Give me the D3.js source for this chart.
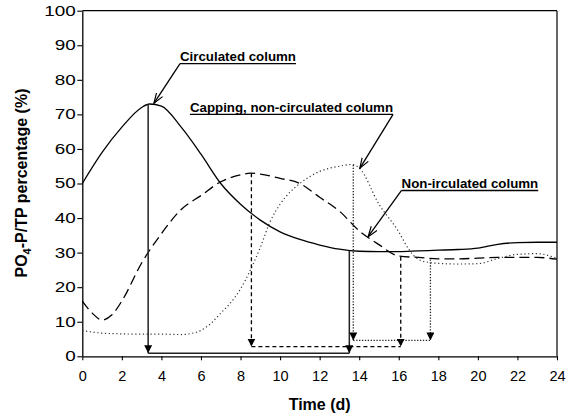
<!DOCTYPE html>
<html>
<head>
<meta charset="utf-8">
<script src="https://cdn.jsdelivr.net/npm/d3@7"></script>
<style>
  html, body { margin: 0; padding: 0; background: #fff; }
  svg { display: block; font-family: "Liberation Sans", Arial, sans-serif; }
</style>
</head>
<body>
<svg id="chart" width="573" height="419"></svg>
<script>
// ---------- data ----------
const xTicks = [0, 2, 4, 6, 8, 10, 12, 14, 16, 18, 20, 22, 24];
const yTicks = [0, 10, 20, 30, 40, 50, 60, 70, 80, 90, 100];

// Circulated column (solid)
const circDays   = [0, 1, 2, 3, 3.4, 4, 5, 6, 7, 8, 9, 10, 11, 12, 13, 14, 15, 16, 17, 18, 19, 20, 21, 22, 23, 24];
const circValues = [50, 59, 66.3, 72, 73, 72.4, 66.3, 58.5, 50, 44, 39.4, 36, 33.8, 32.2, 31, 30.4, 30.3, 30.3, 30.5, 30.7, 30.9, 31.3, 32.4, 32.9, 33, 33];

// Capping, non-circulated column (dashed)
const capDays   = [0, 0.5, 1, 1.5, 2, 3, 4, 5, 6, 7, 8, 8.5, 9, 10, 11, 12, 13, 14, 15, 16, 17, 18, 19, 20, 21, 22, 23, 24];
const capValues = [16, 12.5, 10.5, 12, 16, 27, 35.5, 42.5, 46.5, 50.5, 52.5, 53, 52.7, 51.5, 50, 46, 42, 36.3, 32.3, 29, 28.6, 28.2, 28.2, 28.4, 28.6, 28.6, 28.6, 28.1];

// Non-circulated column (dotted)
const nonDays   = [0, 0.5, 1, 2, 3, 4, 5, 5.5, 6, 6.5, 7, 7.5, 8, 8.5, 9, 9.5, 10, 10.5, 11, 12, 13, 13.6, 14, 15, 16, 16.5, 17, 17.5, 18, 19, 20, 21, 22, 23, 24];
const nonValues = [7.5, 7, 6.7, 6.5, 6.4, 6.4, 6.3, 6.6, 7.5, 9.5, 12.5, 15.5, 19.5, 25, 31.5, 39, 44, 47.5, 50, 53.5, 55, 55.5, 54.5, 44, 36, 31, 28, 27.2, 26.9, 26.7, 26.8, 28.3, 29.5, 29.7, 28.3];

// guide arrows: peak -> stable, per series
const guideStartDays   = [3.33, 8.55, 13.7];
const guideStartValues = [73, 53, 55.4];
const guideEndDays     = [13.5, 16.1, 17.6];
const guideEndValues   = [30.5, 28.8, 28];
const guideLevels      = [0.9, 2.8, 4.6];

// annotations
const annLabels    = ["Circulated column", "Capping, non-circulated column", "Non-irculated column"];
const annTextDays  = [4.94, 5.44, 16.14];
const annTextVals  = [85.4, 70.7, 48.7];
const annTipDays   = [3.62, 14.03, 14.45];
const annTipVals   = [73.2, 54.4, 34.6];
const annAnchor    = ["start", "end", "start"]; // which end of the underline the leader leaves from

// ---------- layout ----------
const svg = d3.select("#chart");
const x = d3.scaleLinear().domain([0, 24]).range([82.3, 557]);
const y = d3.scaleLinear().domain([0, 100]).range([356.3, 10.7]);

const defs = svg.append("defs");
defs.append("marker")
  .attr("id", "tri").attr("markerUnits", "userSpaceOnUse")
  .attr("viewBox", "0 0 10 10").attr("refX", 10).attr("refY", 5)
  .attr("markerWidth", 8).attr("markerHeight", 8).attr("orient", "auto")
  .append("path").attr("d", "M0,0 L10,5 L0,10 Z").attr("fill", "#000");
defs.append("marker")
  .attr("id", "open").attr("markerUnits", "userSpaceOnUse")
  .attr("viewBox", "0 0 12 10").attr("refX", 11.5).attr("refY", 5)
  .attr("markerWidth", 11).attr("markerHeight", 9).attr("orient", "auto")
  .append("path").attr("d", "M0,1 L11.5,5 L0,9").attr("fill", "none").attr("stroke", "#000").attr("stroke-width", 1.3);

// axes
const gx = svg.append("g").attr("transform", `translate(0,${y(0)})`)
  .call(d3.axisBottom(x).tickValues(xTicks).tickSize(4).tickPadding(10).tickSizeOuter(0));
const gy = svg.append("g").attr("transform", `translate(${x(0)},0)`)
  .call(d3.axisLeft(y).tickValues(yTicks).tickSize(5).tickPadding(1.5).tickSizeOuter(0));
[gx, gy].forEach(g => {
  g.selectAll("path.domain").attr("stroke", "#000").attr("stroke-width", 1.3);
  g.selectAll(".tick line").attr("stroke", "#000").attr("stroke-width", 1.1);
  g.selectAll("text").attr("fill", "#000").style("font-size", "14px")
    .style("font-family", '"Liberation Sans", Arial, sans-serif');
});
gx.selectAll("text").style("font-size", "14.5px");
// y tick labels in the reference are drawn wider
gy.selectAll(".tick text").each(function () {
  const w = this.getComputedTextLength();
  d3.select(this).attr("textLength", w * 1.35).attr("lengthAdjust", "spacingAndGlyphs");
});
// frame top and right
svg.append("line").attr("x1", x(0)).attr("x2", x(24)).attr("y1", y(100)).attr("y2", y(100)).attr("stroke", "#000").attr("stroke-width", 1.2);
svg.append("line").attr("x1", x(24)).attr("x2", x(24)).attr("y1", y(100)).attr("y2", y(0)).attr("stroke", "#000").attr("stroke-width", 1.2);

// axis titles
svg.append("text").attr("x", x(12)).attr("y", 410).attr("text-anchor", "middle")
  .style("font-size", "16px").style("font-weight", "bold").text("Time (d)");
const yt = svg.append("text").attr("transform", "translate(27,183) rotate(-90)")
  .attr("text-anchor", "middle").style("font-size", "16px").style("font-weight", "bold");
yt.append("tspan").text("PO");
yt.append("tspan").attr("dy", 4).style("font-size", "11px").text("4");
yt.append("tspan").attr("dy", -4).text("-P/TP percentage (%)");

// curves
const line = d3.line().x(d => x(d[0])).y(d => y(d[1])).curve(d3.curveMonotoneX);
svg.append("path").datum(d3.zip(circDays, circValues)).attr("d", line)
  .attr("fill", "none").attr("stroke", "#000").attr("stroke-width", 1.3);
svg.append("path").datum(d3.zip(capDays, capValues)).attr("d", line)
  .attr("fill", "none").attr("stroke", "#000").attr("stroke-width", 1.3).attr("stroke-dasharray", "10,5");
svg.append("path").datum(d3.zip(nonDays, nonValues)).attr("d", line)
  .attr("fill", "none").attr("stroke", "#333").attr("stroke-width", 1.2).attr("stroke-dasharray", "1.2,2.6");

// guides
const guideStyles = [
  { dash: null, w: 1.5, c: "#222" },
  { dash: "4,3", w: 1.3, c: "#000" },
  { dash: "1.3,1.6", w: 1.3, c: "#222" }
];
guideStartDays.forEach((d0, i) => {
  const st = guideStyles[i];
  const g = svg.append("g").attr("fill", "none").attr("stroke", st.c).attr("stroke-width", st.w)
    .attr("stroke-dasharray", st.dash);
  g.append("line").attr("x1", x(d0)).attr("x2", x(d0)).attr("y1", y(guideStartValues[i])).attr("y2", y(guideLevels[i]))
    .attr("marker-end", "url(#tri)");
  g.append("line").attr("x1", x(guideEndDays[i])).attr("x2", x(guideEndDays[i])).attr("y1", y(guideEndValues[i])).attr("y2", y(guideLevels[i]))
    .attr("marker-end", "url(#tri)");
  g.append("line").attr("x1", x(d0)).attr("x2", x(guideEndDays[i])).attr("y1", y(guideLevels[i])).attr("y2", y(guideLevels[i]));
});

// annotations
annLabels.forEach((lab, i) => {
  const tx = x(annTextDays[i]), ty = y(annTextVals[i]);
  const t = svg.append("text").attr("x", tx).attr("y", ty)
    .style("font-size", "13.3px").style("font-weight", "bold").text(lab);
  const w = t.node().getComputedTextLength();
  const uy = ty + 2.5;
  svg.append("line").attr("x1", tx).attr("x2", tx + w).attr("y1", uy).attr("y2", uy)
    .attr("stroke", "#000").attr("stroke-width", 1.3);
  const sx = annAnchor[i] === "start" ? tx : tx + w;
  svg.append("line").attr("x1", sx).attr("y1", uy).attr("x2", x(annTipDays[i])).attr("y2", y(annTipVals[i]))
    .attr("stroke", "#000").attr("stroke-width", 1.3).attr("marker-end", "url(#open)");
});
</script>
</body>
</html>
